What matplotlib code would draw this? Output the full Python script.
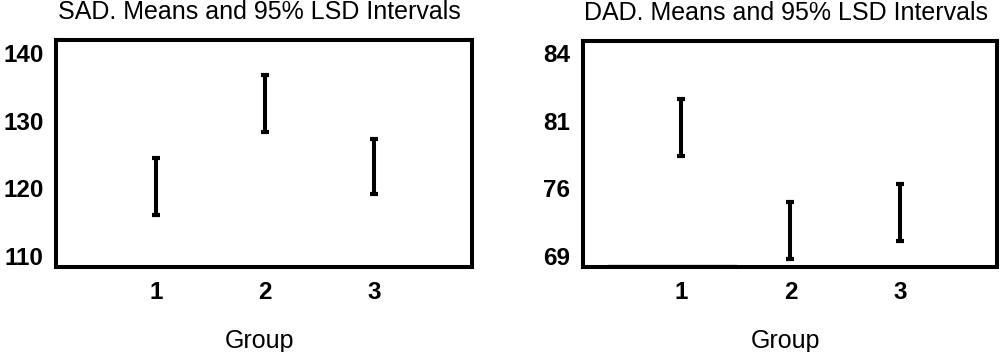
#!/usr/bin/env python3
import numpy as np
import matplotlib
matplotlib.use("Agg")
import matplotlib.pyplot as plt

plt.rcParams['font.family'] = ['Liberation Sans', 'DejaVu Sans']

# groups on the x axis
groups = [1, 2, 3]

# SAD: 95% LSD interval ends
sad_lower = [116.0, 128.4, 119.1]
sad_upper = [124.5, 136.8, 127.3]
sad_ticks = [140, 130, 120, 110]

# DAD: interval ends on the panel's own (evenly labelled) axis
dad_lower = [76.4, 68.8, 70.1]
dad_upper = [80.6, 73.0, 74.3]
dad_tick_labels = ['84', '81', '76', '69']

fig = plt.figure(figsize=(10, 3.52), dpi=100)

def style_axes(ax, title):
    for sp in ax.spines.values():
        sp.set_linewidth(2.9)
        sp.set_color('black')
    ax.tick_params(axis='both', length=0, labelsize=17.5)
    ax.tick_params(axis='y', pad=9)
    ax.tick_params(axis='x', pad=10)
    for lab in ax.get_xticklabels() + ax.get_yticklabels():
        lab.set_fontweight('bold')
    ax.set_title(title, fontsize=18, pad=15, x=0.49)
    ax.set_xlabel('Group', fontsize=18, labelpad=18, x=0.49)

def draw_intervals(ax, lower, upper):
    lower = np.array(lower)
    upper = np.array(upper)
    mid = (lower + upper) / 2
    half = (upper - lower) / 2
    ax.errorbar(groups, mid, yerr=half, fmt='none', ecolor='black',
                elinewidth=2.9, capsize=3.0, capthick=3.0)

# left panel
ax1 = fig.add_axes([0.056, 0.2415, 0.416, 0.6449])
draw_intervals(ax1, sad_lower, sad_upper)
ax1.set_xlim(0.083, 3.9)
ax1.set_ylim(108.36, 141.94)
ax1.set_xticks(groups)
ax1.set_yticks(sad_ticks)
style_axes(ax1, 'SAD. Means and 95% LSD Intervals')

# right panel
ax2 = fig.add_axes([0.583, 0.2415, 0.414, 0.642])
draw_intervals(ax2, dad_lower, dad_upper)
ax2.set_xlim(0.105, 3.886)
ax2.set_ylim(68.18, 84.89)
ax2.set_xticks(groups)
ax2.set_yticks(np.linspace(84, 69, len(dad_tick_labels)))
ax2.set_yticklabels(dad_tick_labels)
# thin stray baseline seen in the original
ax2.axhline(68.36, xmin=0.06, xmax=0.37, color='black', lw=0.9)
style_axes(ax2, 'DAD. Means and 95% LSD Intervals')

fig.savefig('out.png', dpi=100)
